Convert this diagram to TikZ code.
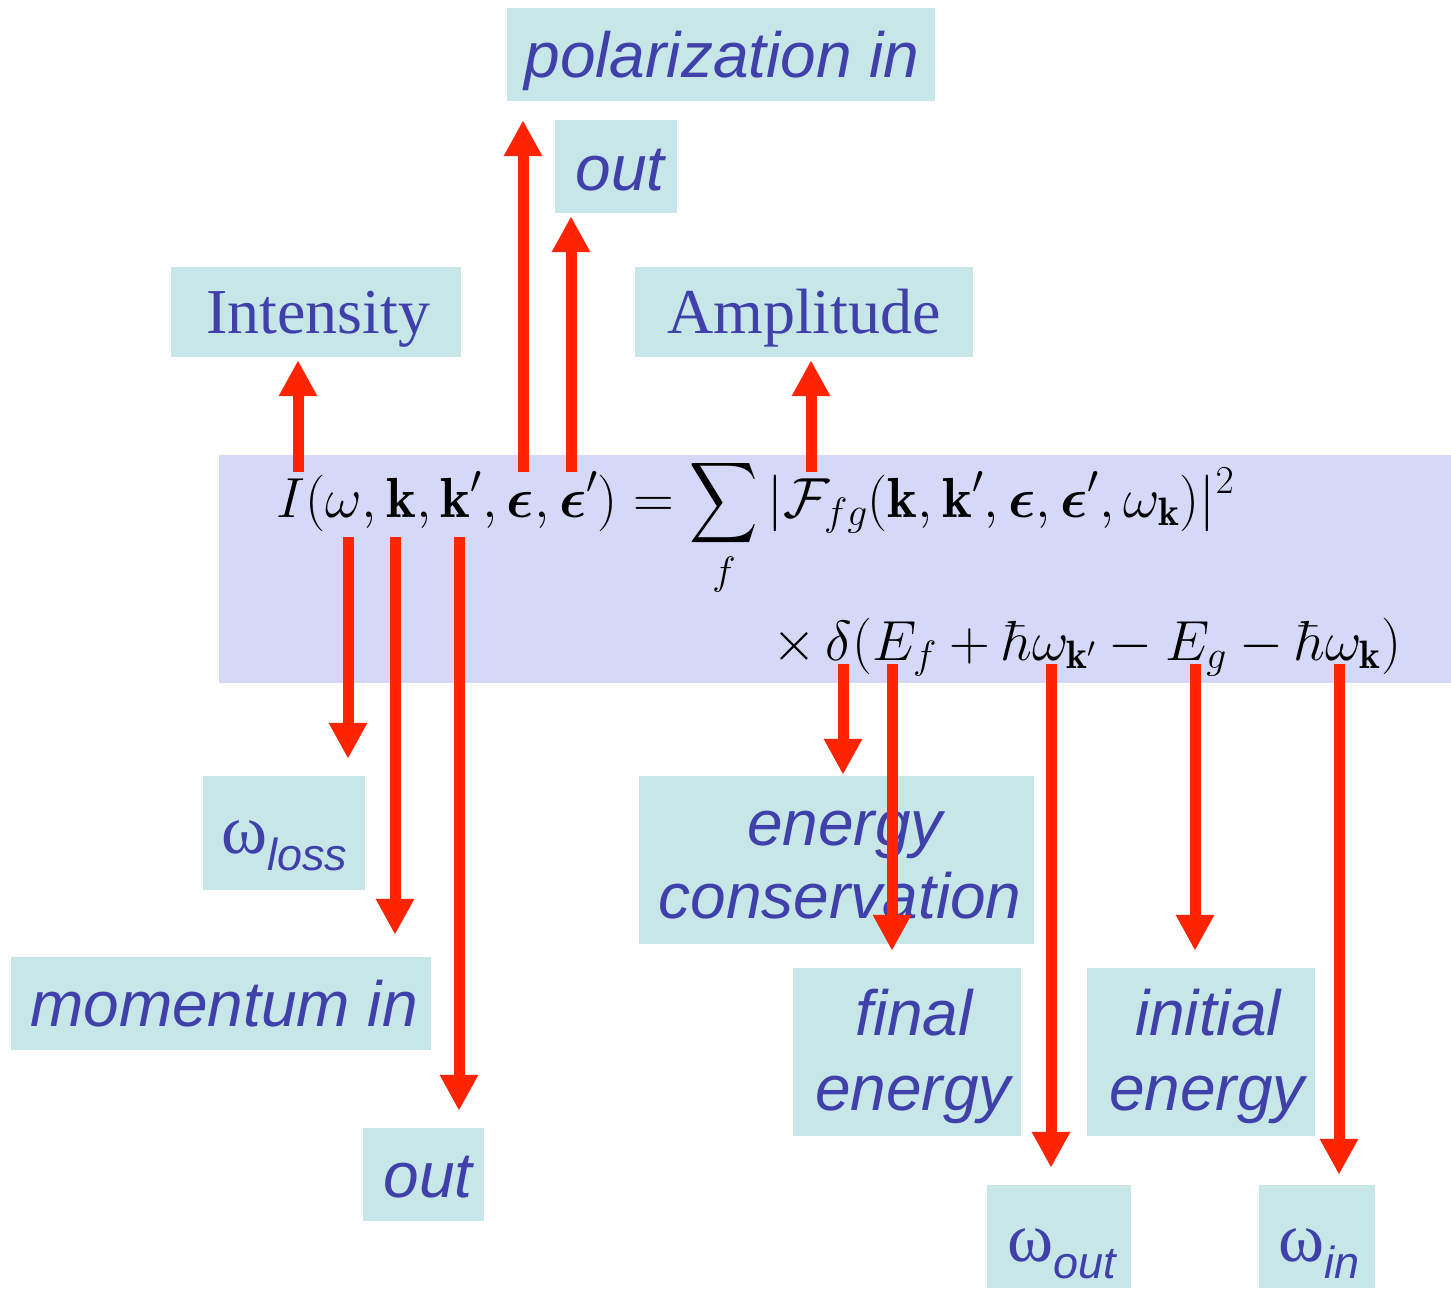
\RequirePackage{fix-cm}
\documentclass[tikz,border=0pt]{standalone}
\usepackage{amsmath,bm,graphicx}
\DeclareFontShape{OMX}{cmex}{m}{n}{<-> cmex10}{}
\usepackage{fontspec}
\usetikzlibrary{arrows.meta}
\newfontfamily\lsans{Liberation Sans}
\newfontfamily\lserif{Liberation Serif}
\definecolor{txtc}{RGB}{64,64,170}
\definecolor{boxc}{RGB}{198,230,232}
\definecolor{bandc}{RGB}{214,216,248}
\definecolor{arrc}{RGB}{255,36,0}
\tikzset{
  lbox/.style={fill=boxc, inner sep=0pt, draw=none},
  ltxt/.style={inner sep=0pt, anchor=base, text=txtc, font=\lsans\itshape\fontsize{64}{70}\selectfont},
  stxt/.style={inner sep=0pt, anchor=base, text=txtc, font=\lserif\fontsize{64}{70}\selectfont},
  wtxt/.style={inner sep=0pt, anchor=base west, text=txtc},
  eqtxt/.style={inner sep=0pt, anchor=base west, font=\fontsize{56.5}{64}\selectfont},
  arr/.style={draw=arrc, line width=11pt, -{Triangle[length=36pt,width=36pt]}}
}
\newcommand{\wlab}[1]{{\lserif\fontsize{70}{76}\selectfont ω}{\lsans\itshape\fontsize{45}{50}\selectfont\raisebox{-17pt}{#1}}}
\newcommand{\narrowsum}{\mathop{\hbox{\scalebox{0.84}[1]{$\displaystyle\sum$}}}\limits}
\begin{document}
\begin{tikzpicture}[x=1pt,y=-1pt]
\useasboundingbox (0,0) rectangle (1451,1288);
% equation band
\node[fill=bandc, inner sep=0pt, minimum width=1232pt, minimum height=228pt] (band) at (835,569) {};
% label boxes
\node[lbox, minimum width=428pt, minimum height=93pt] (pol) at (721,54.5) {};
\node[lbox, minimum width=122pt, minimum height=93pt] (outT) at (616,166.5) {};
\node[lbox, minimum width=290pt, minimum height=90pt] (int) at (316,312) {};
\node[lbox, minimum width=338pt, minimum height=90pt] (amp) at (804,312) {};
\node[lbox, minimum width=162pt, minimum height=114pt] (wloss) at (284,833) {};
\node[lbox, minimum width=420pt, minimum height=93pt] (mom) at (221,1003.5) {};
\node[lbox, minimum width=121pt, minimum height=93pt] (outB) at (423.5,1174.5) {};
\node[lbox, minimum width=395pt, minimum height=168pt] (econ) at (836.5,860) {};
\node[lbox, minimum width=228pt, minimum height=168pt] (fin) at (907,1052) {};
\node[lbox, minimum width=228pt, minimum height=168pt] (ini) at (1201,1052) {};
\node[lbox, minimum width=144pt, minimum height=103pt] (wout) at (1059,1236.5) {};
\node[lbox, minimum width=116pt, minimum height=103pt] (win) at (1317,1236.5) {};
% label texts
\node[ltxt] (tpol) at (722,77) {polarization in};
\node[ltxt] (toutT) at (620,190) {out};
\node[stxt] (tint) at (318,333) {Intensity};
\node[stxt] (tamp) at (804,333) {Amplitude};
\node[ltxt] (tmom) at (224,1026) {momentum in};
\node[ltxt] (toutB) at (428,1197) {out};
\node[ltxt] (tecA) at (845,845) {energy};
\node[ltxt] (tecB) at (840,918) {conservation};
\node[ltxt] (tfinA) at (914,1035) {final};
\node[ltxt] (tfinB) at (913,1110) {energy};
\node[ltxt] (tiniA) at (1208,1035) {initial};
\node[ltxt] (tiniB) at (1207,1110) {energy};
\node[wtxt] (twloss) at (221,853) {\wlab{loss}};
\node[wtxt] (twout) at (1007,1261) {\wlab{out}};
\node[wtxt] (twin) at (1278,1261) {\wlab{in}};
% equation
\node[eqtxt] (eqA) at (276,517) {$\displaystyle I(\omega,\mathbf{k},\mathbf{k}',\bm{\epsilon},\bm{\epsilon}') = \narrowsum_f |\mathcal{F}_{fg}(\mathbf{k},\mathbf{k}',\bm{\epsilon},\bm{\epsilon}',\omega_{\mathbf{k}})|^2$};
\node[eqtxt] (eqB) at (772,660) {$\displaystyle \times\,\delta(E_f+\hbar\omega_{\mathbf{k}'}-E_g-\hbar\omega_{\mathbf{k}})$};
% arrow sources
\coordinate (sI) at (298,472);
\coordinate (sP) at (523,472);
\coordinate (sO) at (571,472);
\coordinate (sA) at (811,472);
\coordinate (sW) at (348,537);
\coordinate (sK) at (395,537);
\coordinate (sKp) at (459,537);
\coordinate (sD) at (843,664);
\coordinate (sEf) at (892,664);
\coordinate (sWo) at (1051,664);
\coordinate (sEg) at (1195,664);
\coordinate (sWi) at (1339,664);
% arrows
\draw[arr, shorten >=3pt] (sI) -- (sI |- int.south);
\draw[arr, shorten >=19pt] (sP) -- (sP |- pol.south);
\draw[arr, shorten >=3pt] (sO) -- (sO |- outT.south);
\draw[arr, shorten >=3pt] (sA) -- (sA |- amp.south);
\draw[arr, shorten >=17pt] (sW) -- (sW |- wloss.north);
\draw[arr, shorten >=22pt] (sK) -- (sK |- mom.north);
\draw[arr, shorten >=17pt] (sKp) -- (sKp |- outB.north);
\draw[arr, shorten >=1pt] (sD) -- (sD |- econ.north);
\draw[arr, shorten >=17pt] (sEf) -- (sEf |- fin.north);
\draw[arr, shorten >=17pt] (sWo) -- (sWo |- wout.north);
\draw[arr, shorten >=17pt] (sEg) -- (sEg |- ini.north);
\draw[arr, shorten >=10pt] (sWi) -- (sWi |- win.north);
\end{tikzpicture}
\end{document}
